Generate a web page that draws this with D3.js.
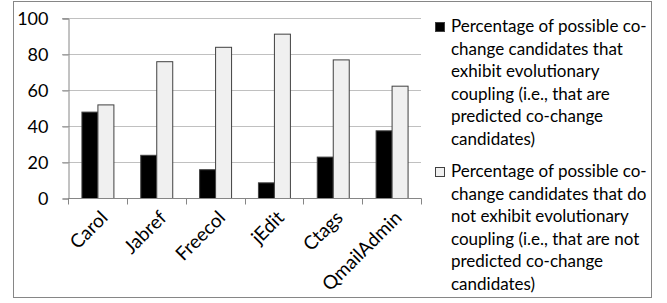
<!DOCTYPE html>
<html>
<head>
<meta charset="utf-8">
<script src="https://cdn.jsdelivr.net/npm/d3@7"></script>
<style>
  body { margin: 0; background: #fff; }
  text { font-family: Lato, "Open Sans", sans-serif; fill: #000; }
</style>
</head>
<body>
<div id="chart"></div>
<script>
// -----------------------------------------------------------------------
//  Data
// -----------------------------------------------------------------------
let projects = ["Carol", "Jabref", "Freecol", "jEdit", "Ctags", "QmailAdmin"];
let coupled = [48, 24, 16, 8.7, 23, 37.6];       // black bars
let notCoupled = [52, 76, 84, 91.3, 77, 62.4];   // light bars
let yTicks = [0, 20, 40, 60, 80, 100];

let legendCoupled = ["Percentage of possible co-", "change candidates that", "exhibit evolutionary",
    "coupling (i.e., that are", "predicted co-change", "candidates)"];
let legendNotCoupled = ["Percentage of possible co-", "change candidates that do", "not exhibit evolutionary",
    "coupling (i.e., that are not", "predicted co-change", "candidates)"];

// -----------------------------------------------------------------------
//  Layout
// -----------------------------------------------------------------------
const width = 667, height = 303;
const plot = {left: 68, right: 421, top: 18, bottom: 198};

const svg = d3.select("#chart").append("svg")
    .attr("width", width)
    .attr("height", height);

// outer frame
svg.append("rect")
    .attr("x", 13.5).attr("y", 1.5)
    .attr("width", 638).attr("height", 296)
    .attr("fill", "#fff")
    .attr("stroke", "#868686")
    .attr("stroke-width", 1);

let x0 = d3.scaleBand().domain(projects).range([plot.left, plot.right]).padding(0);
let x1 = d3.scaleBand().domain(["coupled", "notCoupled"]).range([0, x0.bandwidth()])
    .paddingInner(0).paddingOuter(0.84);
let y = d3.scaleLinear().domain([0, 100]).range([plot.bottom, plot.top]);

// gridlines
svg.append("g")
    .selectAll("line")
    .data(yTicks.filter(d => d > 0))
    .join("line")
    .attr("x1", plot.left - 6).attr("x2", plot.right)
    .attr("y1", d => Math.round(y(d)) + 0.5).attr("y2", d => Math.round(y(d)) + 0.5)
    .attr("stroke", "#c0c0c0");

// y axis
const yAxis = svg.append("g")
    .attr("transform", `translate(${plot.left + 0.5},0.5)`)
    .call(d3.axisLeft(y).tickValues(yTicks).tickSize(6).tickPadding(14));
yAxis.select(".domain").attr("stroke", "#868686");
yAxis.selectAll(".tick line").attr("stroke", "#868686");
yAxis.selectAll(".tick text").attr("font-size", 18).attr("dy", "0.36em");

// bars
let rows = projects.map((p, i) => ({project: p, coupled: coupled[i], notCoupled: notCoupled[i]}));
const groups = svg.append("g").selectAll("g")
    .data(rows)
    .join("g")
    .attr("transform", d => `translate(${x0(d.project)},0)`);

groups.append("rect")
    .attr("x", x1("coupled") + 0.5)
    .attr("y", d => y(d.coupled) + 0.5)
    .attr("width", x1.bandwidth())
    .attr("height", d => y(0) - y(d.coupled))
    .attr("fill", "#000")
    .attr("stroke", "#404040");

groups.append("rect")
    .attr("x", x1("notCoupled") + 0.5)
    .attr("y", d => y(d.notCoupled) + 0.5)
    .attr("width", x1.bandwidth())
    .attr("height", d => y(0) - y(d.notCoupled))
    .attr("fill", "#f0f0f0")
    .attr("stroke", "#404040");

// x axis
const xAxis = svg.append("g")
    .attr("transform", `translate(0,${plot.bottom + 0.5})`);
xAxis.append("line")
    .attr("x1", plot.left).attr("x2", plot.right + 0.5)
    .attr("stroke", "#868686");
xAxis.selectAll(".xtick")
    .data(d3.range(projects.length + 1))
    .join("line")
    .attr("class", "xtick")
    .attr("x1", i => Math.round(plot.left + i * x0.step()) + 0.5)
    .attr("x2", i => Math.round(plot.left + i * x0.step()) + 0.5)
    .attr("y1", 0).attr("y2", 6)
    .attr("stroke", "#868686");

xAxis.selectAll(".xlabel")
    .data(projects)
    .join("text")
    .attr("class", "xlabel")
    .attr("font-size", 19)
    .attr("text-anchor", "end")
    .attr("transform", d => `translate(${x0(d) + x0.bandwidth() / 2 + 2},${11}) rotate(-45)`)
    .attr("dy", "0.7em")
    .text(d => d);

// legend
const legend = svg.append("g");
function legendEntry(lines, top, fill) {
    legend.append("rect")
        .attr("x", 435.5).attr("y", top - 9.5)
        .attr("width", 9).attr("height", 9)
        .attr("fill", fill)
        .attr("stroke", "#404040");
    legend.append("text")
        .attr("font-size", 17)
        .selectAll("tspan")
        .data(lines)
        .join("tspan")
        .attr("x", 451)
        .attr("y", (d, i) => top + i * 22.5)
        .text(d => d);
}
legendEntry(legendCoupled, 32, "#000");
legendEntry(legendNotCoupled, 177, "#f0f0f0");
</script>
</body>
</html>
